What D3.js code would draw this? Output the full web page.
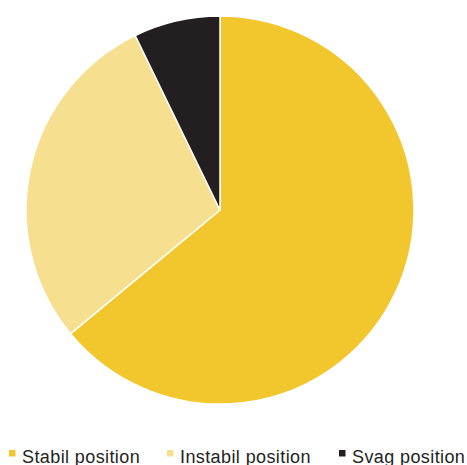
<!DOCTYPE html>
<html><head><meta charset="utf-8">
<script src="https://cdn.jsdelivr.net/npm/d3@7"></script>
<style>body{margin:0;background:#fff}svg{display:block}</style>
</head><body>
<svg id="c" width="467" height="465"></svg>
<script>
const categories = ["Stabil position", "Instabil position", "Svag position"];
const values = [64, 28.8, 7.2];
const colors = ["#F2C72E", "#F6DF8E", "#231F20"];

const svg = d3.select("#c");
const cx = 220, cy = 210, r = 194;
const pie = d3.pie().sort(null).value(d => d)(values);
const arc = d3.arc().innerRadius(0).outerRadius(r);
const g = svg.append("g").attr("transform", `translate(${cx},${cy})`);
g.selectAll("path").data(pie).join("path")
  .attr("d", arc)
  .attr("fill", (d, i) => colors[i])
  .attr("stroke", "#fff").attr("stroke-width", 1.5).attr("stroke-linejoin", "round");

const legendX = [9, 167, 339];
const lg = svg.append("g");
categories.forEach((c, i) => {
  lg.append("rect").attr("x", legendX[i]).attr("y", 450).attr("width", 6.5).attr("height", 6.5).attr("fill", colors[i]);
  lg.append("text").attr("x", legendX[i] + 13).attr("y", 463)
    .attr("font-family", "Liberation Sans, Arial, sans-serif").attr("font-size", 18)
    .attr("letter-spacing", 0.4)
    .attr("fill", "#231F20").text(c);
});
</script>
</body></html>
